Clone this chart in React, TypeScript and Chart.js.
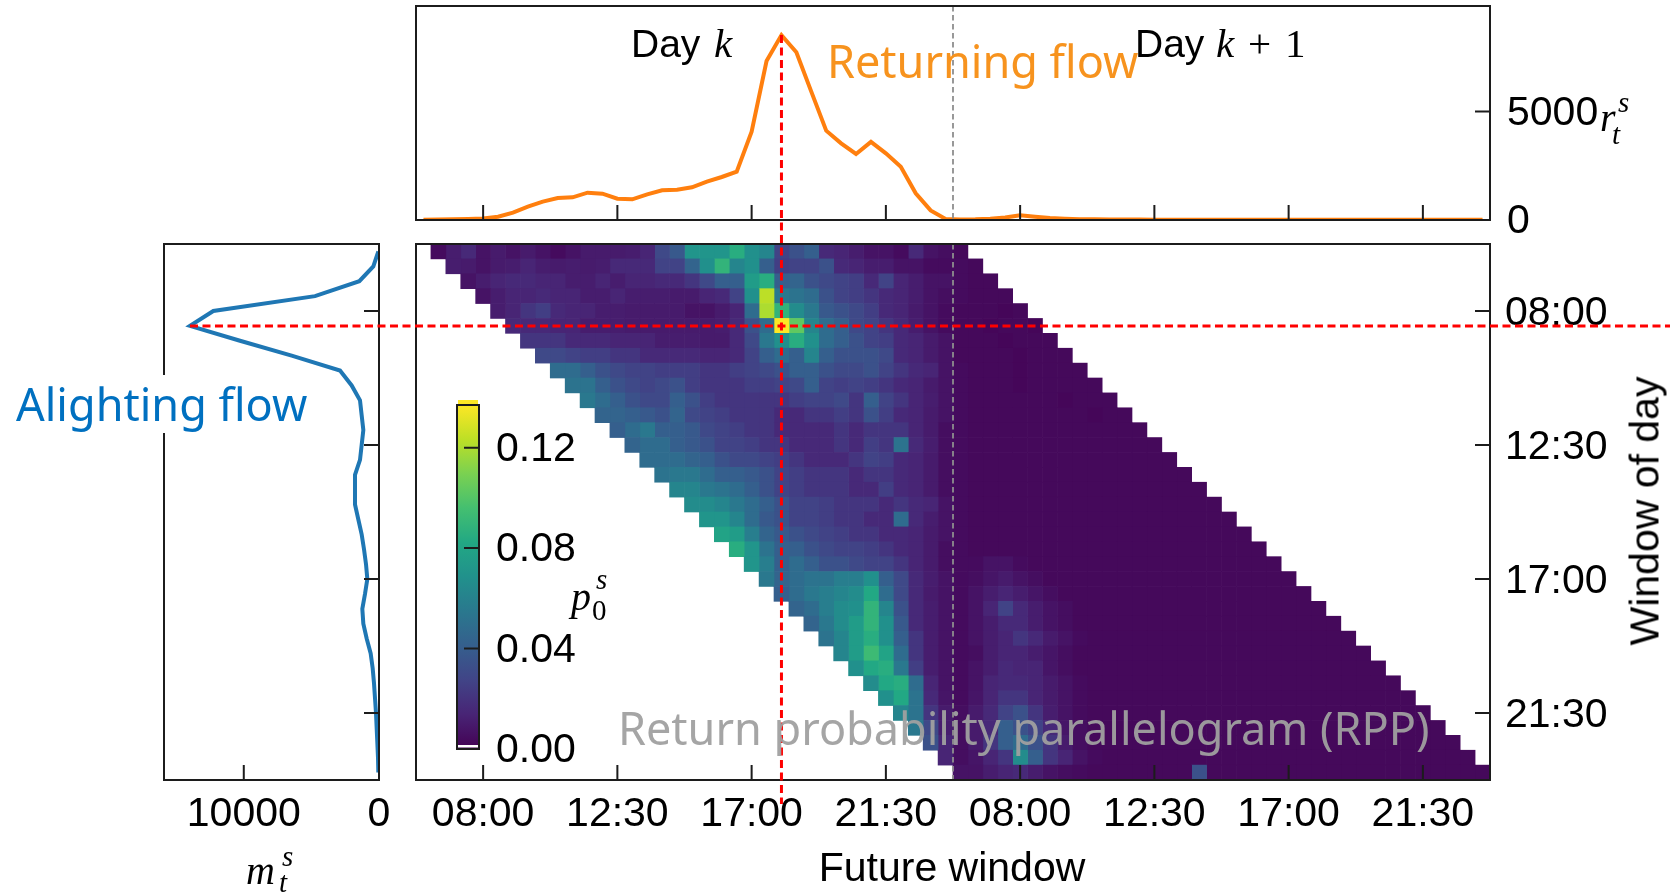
import React, { useEffect, useRef } from "react";
import { Chart, registerables } from "chart.js";

Chart.register(...registerables);

const W = 1670;
const H = 893;
const SANS = '"Liberation Sans", Arial, sans-serif';
const SERIF = '"Liberation Serif", "Times New Roman", serif';
const UI = '"Noto Sans", "Open Sans", sans-serif';
Chart.defaults.font.family = SANS;

// ---------------------------------------------------------------- data ----
// 30-minute windows of one service day
const WINDOW_LABELS = [
  "06:00", "06:30", "07:00", "07:30", "08:00", "08:30", "09:00", "09:30", "10:00",
  "10:30", "11:00", "11:30", "12:00", "12:30", "13:00", "13:30", "14:00", "14:30",
  "15:00", "15:30", "16:00", "16:30", "17:00", "17:30", "18:00", "18:30", "19:00",
  "19:30", "20:00", "20:30", "21:00", "21:30", "22:00", "22:30", "23:00", "23:30",
];
const TICK_LABELS = ["08:00", "12:30", "17:00", "21:30"];
const N = WINDOW_LABELS.length;

// returning flow r_t^s over the future windows of day k and day k+1
const RETURN_FLOW = [
  10, 20, 30, 50, 70, 154, 338, 614, 845, 1014, 1044, 1259, 1213, 983, 952, 1183, 1367, 1398,
  1505, 1766, 1981, 2227, 4070, 7327, 8520, 7726, 5914, 4116, 3533, 3041, 3600, 3072, 2458, 1229,
  442, 50,
  20, 30, 60, 120, 220, 150, 90, 60, 40, 30, 25, 20, 20, 15, 15, 15, 10, 10,
  10, 10, 10, 10, 10, 10, 10, 10, 10, 10, 10, 10, 10, 10, 10, 10, 10, 10,
];
const R_TICKS = [0, 5000];
const R_MAX = 9860;

// alighting flow m_t^s per window of day
const ALIGHT_FLOW = [
  49, 419, 1455, 4733, 12253, 13978, 10280, 6459, 2884, 2022, 1405, 1282, 1159, 1282, 1405, 1775,
  1775, 1775, 1528, 1282, 1109, 961, 863, 1035, 1233, 1159, 912, 616, 468, 370, 296, 222, 173,
  123, 74, 49,
];
const M_TICKS = [10000, 0];
const M_MAX = 15900;

// return probability p_0^s, in thousandths.
// row i = window of day i; entry d = future window i + 1 + d
const RETURN_PROB_PERMILLE = [
  [4, 11, 16, 7, 10, 7, 10, 7, 4, 7, 10, 10, 10, 11, 14, 30, 38, 71, 71, 71, 85, 68, 62, 27, 34, 41, 16, 14, 11, 7, 7, 4, 16, 7, 5, 3],
  [11, 10, 7, 10, 11, 14, 11, 10, 11, 10, 11, 16, 16, 16, 27, 27, 44, 68, 89, 62, 68, 41, 25, 27, 27, 34, 16, 14, 11, 11, 7, 7, 4, 4, 4, 3],
  [7, 11, 14, 16, 16, 14, 14, 11, 11, 14, 11, 14, 14, 16, 16, 21, 30, 41, 41, 75, 85, 41, 44, 34, 30, 27, 25, 16, 27, 14, 11, 7, 7, 4, 3, 3],
  [7, 11, 14, 14, 16, 14, 14, 11, 11, 14, 11, 11, 11, 10, 10, 14, 16, 27, 68, 123, 55, 52, 48, 34, 27, 25, 21, 16, 14, 11, 7, 5, 4, 3, 3, 3],
  [11, 14, 21, 25, 16, 14, 14, 11, 11, 10, 10, 10, 10, 7, 7, 10, 14, 48, 120, 89, 66, 55, 38, 34, 30, 25, 16, 14, 10, 7, 4, 3, 3, 3, 2, 3],
  [16, 16, 16, 14, 14, 11, 11, 11, 10, 10, 10, 10, 10, 10, 11, 16, 34, 48, 137, 103, 62, 48, 41, 30, 27, 21, 16, 11, 7, 4, 3, 3, 2, 3, 3, 2],
  [21, 21, 21, 16, 16, 16, 14, 14, 14, 11, 11, 11, 10, 10, 16, 30, 55, 68, 85, 68, 48, 41, 34, 27, 25, 16, 14, 10, 7, 3, 3, 3, 2, 3, 3, 3],
  [30, 30, 27, 25, 25, 21, 21, 16, 16, 16, 16, 14, 14, 16, 27, 41, 48, 41, 62, 41, 34, 34, 34, 30, 16, 14, 10, 7, 3, 3, 3, 3, 2, 3, 3, 3],
  [48, 48, 41, 34, 30, 27, 27, 25, 25, 25, 21, 21, 25, 27, 30, 34, 41, 41, 34, 30, 30, 34, 27, 21, 16, 14, 7, 4, 3, 3, 3, 2, 3, 3, 3, 3],
  [52, 52, 41, 34, 30, 27, 30, 34, 25, 21, 21, 21, 25, 25, 27, 30, 41, 27, 25, 27, 25, 21, 16, 14, 10, 7, 4, 3, 3, 3, 2, 3, 3, 3, 3, 3],
  [55, 48, 41, 34, 30, 30, 41, 34, 25, 21, 21, 21, 21, 21, 25, 27, 27, 30, 21, 41, 27, 21, 14, 11, 7, 4, 3, 3, 3, 3, 3, 3, 2, 3, 3, 3],
  [44, 44, 41, 38, 34, 44, 30, 27, 25, 21, 21, 21, 16, 16, 21, 21, 25, 21, 34, 25, 16, 14, 10, 7, 4, 3, 3, 3, 3, 3, 3, 3, 3, 2, 3, 3],
  [41, 48, 55, 41, 41, 38, 30, 27, 25, 21, 21, 16, 16, 16, 16, 21, 16, 21, 21, 21, 14, 10, 5, 4, 3, 3, 3, 3, 3, 3, 3, 3, 3, 3, 3, 3],
  [44, 48, 48, 41, 38, 34, 27, 27, 25, 21, 21, 16, 16, 16, 21, 16, 25, 21, 52, 16, 11, 5, 4, 3, 3, 3, 3, 3, 3, 3, 3, 3, 3, 3, 3, 3],
  [48, 48, 48, 44, 41, 34, 30, 30, 27, 25, 21, 16, 16, 16, 21, 27, 25, 16, 14, 10, 5, 4, 3, 3, 3, 3, 3, 3, 3, 3, 3, 3, 3, 3, 3, 3],
  [52, 55, 55, 48, 41, 41, 38, 34, 27, 25, 21, 21, 21, 16, 21, 21, 16, 14, 10, 5, 4, 3, 3, 3, 3, 3, 3, 3, 3, 3, 3, 3, 3, 3, 3, 3],
  [62, 62, 55, 52, 48, 41, 34, 27, 25, 21, 21, 21, 16, 16, 25, 16, 14, 10, 5, 4, 3, 3, 3, 3, 3, 3, 3, 3, 3, 3, 3, 3, 3, 3, 3, 3],
  [66, 66, 62, 55, 48, 41, 34, 27, 27, 25, 21, 21, 21, 16, 21, 16, 14, 7, 4, 3, 3, 3, 3, 3, 3, 3, 3, 3, 3, 3, 3, 3, 3, 3, 3, 3],
  [71, 71, 62, 48, 38, 34, 27, 27, 25, 21, 21, 16, 16, 48, 16, 11, 7, 4, 3, 3, 3, 3, 3, 3, 3, 3, 3, 3, 3, 3, 3, 3, 3, 3, 3, 3],
  [79, 75, 58, 44, 38, 34, 30, 27, 25, 21, 21, 16, 16, 14, 10, 7, 4, 3, 3, 3, 3, 3, 3, 3, 3, 3, 3, 3, 3, 3, 3, 3, 3, 3, 3, 3],
  [85, 71, 52, 41, 41, 34, 30, 27, 27, 25, 21, 16, 14, 10, 5, 4, 3, 3, 3, 3, 3, 3, 3, 3, 3, 3, 3, 3, 3, 3, 3, 3, 3, 3, 3, 3],
  [71, 58, 41, 48, 41, 34, 34, 30, 27, 27, 21, 14, 10, 5, 4, 4, 7, 7, 4, 3, 3, 3, 3, 3, 3, 3, 3, 3, 3, 3, 3, 3, 3, 3, 3, 3],
  [55, 44, 48, 52, 52, 58, 58, 68, 41, 30, 16, 11, 7, 4, 5, 8, 10, 7, 5, 3, 3, 3, 3, 3, 3, 3, 3, 3, 3, 3, 3, 3, 3, 3, 3, 3],
  [41, 48, 55, 58, 62, 66, 82, 48, 30, 16, 10, 7, 4, 7, 11, 14, 11, 8, 5, 3, 3, 3, 3, 3, 3, 3, 3, 3, 3, 3, 3, 3, 3, 3, 3, 3],
  [44, 48, 58, 66, 68, 89, 62, 34, 16, 11, 7, 4, 7, 14, 27, 16, 11, 7, 5, 3, 3, 3, 3, 3, 3, 3, 3, 3, 3, 3, 3, 3, 3, 3, 3, 3],
  [44, 55, 66, 75, 89, 68, 38, 16, 11, 7, 4, 7, 11, 16, 16, 11, 7, 5, 3, 3, 3, 3, 3, 3, 3, 3, 3, 3, 3, 3, 3, 3, 3, 3, 3, 3],
  [52, 62, 75, 85, 68, 41, 21, 11, 7, 4, 7, 11, 14, 21, 16, 10, 7, 4, 3, 3, 3, 3, 3, 3, 3, 3, 3, 3, 3, 3, 3, 3, 3, 3, 3, 3],
  [62, 75, 93, 79, 48, 21, 11, 7, 4, 5, 11, 14, 14, 11, 8, 5, 3, 3, 3, 3, 3, 3, 3, 3, 3, 3, 3, 3, 3, 3, 3, 3, 3, 3, 3, 3],
  [68, 82, 85, 55, 25, 11, 7, 4, 7, 11, 16, 14, 14, 8, 5, 3, 3, 3, 3, 3, 3, 3, 3, 3, 3, 3, 3, 3, 3, 3, 3, 3, 3, 3, 3, 3],
  [66, 82, 85, 48, 14, 7, 4, 7, 14, 16, 16, 14, 10, 7, 4, 3, 3, 3, 3, 3, 3, 3, 3, 3, 3, 3, 3, 3, 3, 3, 3, 3, 3, 3, 3, 3],
  [68, 82, 52, 16, 8, 4, 8, 14, 21, 21, 14, 10, 7, 4, 3, 3, 3, 3, 3, 3, 3, 3, 3, 3, 3, 3, 3, 3, 3, 3, 3, 3, 3, 3, 3, 3],
  [62, 52, 21, 10, 5, 10, 16, 27, 34, 21, 11, 7, 4, 3, 3, 3, 3, 3, 3, 3, 3, 3, 3, 3, 3, 3, 3, 3, 3, 3, 3, 3, 3, 3, 3, 3],
  [55, 30, 11, 5, 10, 16, 41, 34, 27, 16, 8, 5, 3, 3, 3, 3, 3, 3, 3, 3, 3, 3, 3, 3, 3, 3, 3, 3, 3, 3, 3, 3, 3, 3, 3, 3],
  [34, 14, 5, 10, 21, 41, 48, 34, 21, 10, 5, 3, 3, 3, 3, 3, 3, 3, 3, 3, 3, 3, 3, 3, 3, 3, 3, 3, 3, 3, 3, 3, 3, 3, 3, 3],
  [14, 5, 8, 14, 21, 66, 41, 21, 14, 7, 4, 3, 3, 3, 3, 3, 3, 3, 3, 3, 3, 3, 3, 3, 3, 3, 3, 3, 3, 3, 3, 3, 3, 3, 3, 3],
  [7, 7, 11, 14, 16, 11, 7, 5, 4, 3, 3, 3, 3, 3, 3, 3, 34, 3, 3, 3, 3, 3, 3, 3, 3, 3, 3, 3, 3, 3, 3, 3, 3, 3, 3, 3],
];
const CBAR_TICKS = [0, 0.04, 0.08, 0.12];

// --------------------------------------------------------------- styles ----
const ORANGE = "#ff7f0e";
const BLUE = "#1f77b4";
const RED = "#ff0000";
const SPINE = "#1c1c1c";
const TICK_FONT = { family: SANS, size: 41 };

// plot areas on the page
const TOP = { left: 416, right: 1490, top: 6, bottom: 220 };
const HEAT = { left: 416, right: 1490, top: 244, bottom: 780 };
const SIDE = { left: 164, right: 379, top: 244, bottom: 780 };
const CBAR = { left: 457, right: 479, top: 405, bottom: 749 };

// room reserved for tick labels
const X_AXIS_H = 90;
const Y_AXIS_W = 150;

const VIRIDIS = [
  "#440154", "#482475", "#414487", "#355f8d", "#2a788e", "#21918c",
  "#22a884", "#44bf70", "#7ad151", "#bddf26", "#fde725",
];
const VIRIDIS_RGB = VIRIDIS.map((h) => [1, 3, 5].map((k) => parseInt(h.slice(k, k + 2), 16)));
function viridis(t: number): string {
  const u = Math.max(0, Math.min(1, t)) * (VIRIDIS_RGB.length - 1);
  const i = Math.min(VIRIDIS_RGB.length - 2, Math.floor(u));
  const f = u - i;
  const a = VIRIDIS_RGB[i];
  const b = VIRIDIS_RGB[i + 1];
  const c = a.map((v, k) => Math.round(v + (b[k] - v) * f));
  return `rgb(${c[0]},${c[1]},${c[2]})`;
}

// layout padding that puts the plot area at rect r, given the axis boxes
const padFor = (r: any, xAxisH: number, yAxisW: number) => ({
  left: r.left,
  right: W - r.right - yAxisW,
  top: r.top,
  bottom: H - r.bottom - xAxisH,
});
const noGrid = { display: false, drawTicks: false, tickLength: 0 };
const noBorder = { display: false };
const fitX = (h: number) => (s: any) => {
  s.height = h;
  s.paddingLeft = s.paddingRight = s.paddingTop = s.paddingBottom = 0;
};
const fitY = (w: number) => (s: any) => {
  s.width = w;
  s.paddingLeft = s.paddingRight = s.paddingTop = s.paddingBottom = 0;
};
const setTicks = (values: number[]) => (s: any) => {
  s.ticks = values.map((v) => ({ value: v }));
};

// box around the plot area with inward tick marks
function framePlugin(specs: { axis: string; side: "bottom" | "right" }[], tickLen = 15) {
  return {
    id: "frame",
    afterDraw(chart: any) {
      const { ctx, chartArea: a } = chart;
      ctx.save();
      ctx.strokeStyle = SPINE;
      ctx.lineWidth = 2;
      ctx.beginPath();
      for (const s of specs) {
        const sc = chart.scales[s.axis];
        sc.ticks.forEach((_: any, i: number) => {
          const p = sc.getPixelForTick(i);
          if (s.side === "bottom") {
            ctx.moveTo(p, a.bottom);
            ctx.lineTo(p, a.bottom - tickLen);
          } else {
            ctx.moveTo(a.right, p);
            ctx.lineTo(a.right - tickLen, p);
          }
        });
      }
      ctx.stroke();
      ctx.strokeRect(a.left, a.top, a.right - a.left, a.bottom - a.top);
      ctx.restore();
    },
  };
}

// colour bar end caps: thin top-colour strip above, white strip at the floor
const cbarCaps = {
  id: "cbarCaps",
  afterDatasetsDraw(chart: any) {
    const { ctx, chartArea: a } = chart;
    ctx.save();
    ctx.fillStyle = VIRIDIS[VIRIDIS.length - 1];
    ctx.fillRect(a.left + 1, a.top - 5, a.right - a.left - 2, 5);
    ctx.fillStyle = "#fff";
    ctx.fillRect(a.left, a.bottom - 4, a.right - a.left, 2.5);
    ctx.restore();
  },
};

// dashed separator between day k and day k+1
const dayDivider = {
  id: "dayDivider",
  afterDatasetsDraw(chart: any) {
    const { ctx, chartArea: a } = chart;
    const x = chart.scales.x.getPixelForValue(N - 0.5);
    ctx.save();
    ctx.strokeStyle = "#8e8e8e";
    ctx.lineWidth = 1.8;
    ctx.setLineDash([5.5, 3.5]);
    ctx.beginPath();
    ctx.moveTo(x, a.top);
    ctx.lineTo(x, a.bottom);
    ctx.stroke();
    ctx.restore();
  },
};

function dashedRed(ctx: any, x0: number, y0: number, x1: number, y1: number) {
  ctx.save();
  ctx.strokeStyle = RED;
  ctx.lineWidth = 3;
  ctx.setLineDash([8, 4.5]);
  ctx.beginPath();
  ctx.moveTo(x0, y0);
  ctx.lineTo(x1, y1);
  ctx.stroke();
  ctx.restore();
}

// --------------------------------------------------------------- text ------
const BASELINE = { sans: 0.8465, serif: 0.8375, ui: 0.888 } as const;
const FAMILY = { sans: SANS, serif: SERIF, ui: UI } as const;

function T(props: {
  x: number;
  y: number; // baseline
  text: string;
  fam: "sans" | "serif" | "ui";
  size: number;
  color?: string;
  italic?: boolean;
  anchor?: "start" | "middle";
}) {
  const { x, y, text, fam, size, color = "#000", italic = false, anchor = "start" } = props;
  return (
    <div
      style={{
        position: "absolute",
        left: x,
        top: y - BASELINE[fam] * size,
        fontFamily: FAMILY[fam],
        fontSize: size,
        lineHeight: 1,
        fontStyle: italic ? "italic" : "normal",
        color,
        whiteSpace: "nowrap",
        transform: anchor === "middle" ? "translateX(-50%)" : undefined,
      }}
    >
      {text}
    </div>
  );
}

export default function App() {
  const heatRef = useRef<HTMLCanvasElement>(null);
  const cbarRef = useRef<HTMLCanvasElement>(null);
  const sideRef = useRef<HTMLCanvasElement>(null);
  const topRef = useRef<HTMLCanvasElement>(null);

  useEffect(() => {
    const charts: Chart[] = [];
    const base = {
      responsive: false,
      animation: false as const,
      events: [] as any[],
      plugins: { legend: { display: false }, tooltip: { enabled: false } },
    };

    const probs = RETURN_PROB_PERMILLE.map((r) => r.map((v) => v / 1000));
    const vmax = Math.max(...probs.flat());
    const dayTickIndex = TICK_LABELS.map((l) => WINDOW_LABELS.indexOf(l));
    const futureTicks = [...dayTickIndex, ...dayTickIndex.map((i) => i + N)];
    const peakWindow = RETURN_FLOW.indexOf(Math.max(...RETURN_FLOW));
    const peakRow = ALIGHT_FLOW.indexOf(Math.max(...ALIGHT_FLOW));

    // ---- return probability parallelogram: one floating bar per cell
    const heatSets = probs[0].map((_, d) => ({
      data: probs.map((_r, i) => [i + 1 + d - 0.5, i + 1 + d + 0.5]),
      backgroundColor: probs.map((r) => viridis(r[d] / vmax)),
      borderWidth: 0,
      barPercentage: 1,
      categoryPercentage: 1,
      grouped: false,
    }));
    const heat = new Chart(heatRef.current!, {
      type: "bar",
      data: { labels: WINDOW_LABELS, datasets: heatSets as any },
      options: {
        ...base,
        indexAxis: "y",
        layout: { autoPadding: false, padding: padFor(HEAT, X_AXIS_H, Y_AXIS_W) },
        scales: {
          x: {
            type: "linear",
            min: -0.5,
            max: 2 * N - 0.5,
            bounds: "data",
            position: "bottom",
            grid: noGrid,
            border: noBorder,
            afterBuildTicks: setTicks(futureTicks),
            afterFit: fitX(X_AXIS_H),
            ticks: {
              font: TICK_FONT,
              color: "#000",
              padding: 10,
              maxRotation: 0,
              autoSkip: false,
              callback: (v: any) => WINDOW_LABELS[Number(v) % N],
            },
          },
          y: {
            type: "category",
            position: "right",
            offset: true,
            grid: noGrid,
            border: noBorder,
            afterBuildTicks: (s: any) => {
              s.ticks = s.ticks.filter((t: any) => TICK_LABELS.includes(WINDOW_LABELS[t.value]));
            },
            afterFit: fitY(Y_AXIS_W),
            ticks: { font: TICK_FONT, color: "#000", padding: 15, autoSkip: false, labelOffset: 3 },
          },
        },
      } as any,
      plugins: [
        dayDivider,
        framePlugin([
          { axis: "x", side: "bottom" },
          { axis: "y", side: "right" },
        ]),
      ],
    });
    charts.push(heat);

    // ---- colour bar
    const cbar = new Chart(cbarRef.current!, {
      type: "bar",
      data: {
        labels: ["p"],
        datasets: [
          {
            data: [[0, vmax]] as any,
            backgroundColor: (c: any) => {
              const a = c.chart.chartArea;
              if (!a) return VIRIDIS[0];
              const g = c.chart.ctx.createLinearGradient(0, a.bottom, 0, a.top);
              VIRIDIS.forEach((col, i) => g.addColorStop(i / (VIRIDIS.length - 1), col));
              return g;
            },
            borderWidth: 0,
            barPercentage: 1,
            categoryPercentage: 1,
          },
        ],
      },
      options: {
        ...base,
        layout: { autoPadding: false, padding: padFor(CBAR, 0, Y_AXIS_W) },
        scales: {
          x: { display: false },
          y: {
            type: "linear",
            min: 0,
            max: vmax,
            bounds: "data",
            position: "right",
            grid: noGrid,
            border: noBorder,
            afterBuildTicks: setTicks(CBAR_TICKS),
            afterFit: fitY(Y_AXIS_W),
            ticks: {
              font: TICK_FONT,
              color: "#000",
              padding: 17,
              labelOffset: 2,
              callback: (v: any) => Number(v).toFixed(2),
            },
          },
        },
      } as any,
      plugins: [cbarCaps, framePlugin([{ axis: "y", side: "right" }], 15)],
    });
    charts.push(cbar);

    // ---- alighting flow (left panel)
    const alightMarker = {
      id: "alightMarker",
      afterDraw(chart: any) {
        const x = chart.scales.x.getPixelForValue(ALIGHT_FLOW[peakRow]);
        const y = chart.scales.y.getPixelForValue(peakRow);
        dashedRed(chart.ctx, x, y, chart.width, y);
      },
    };
    const side = new Chart(sideRef.current!, {
      type: "line",
      data: {
        datasets: [
          {
            data: ALIGHT_FLOW.map((v, i) => ({ x: v, y: i })),
            borderColor: BLUE,
            borderWidth: 4,
            pointRadius: 0,
            tension: 0,
            fill: false,
          },
        ],
      },
      options: {
        ...base,
        layout: { autoPadding: false, padding: padFor(SIDE, X_AXIS_H, 0) },
        scales: {
          x: {
            type: "linear",
            reverse: true,
            min: 0,
            max: M_MAX,
            bounds: "data",
            position: "bottom",
            grid: noGrid,
            border: noBorder,
            afterBuildTicks: setTicks(M_TICKS),
            afterFit: fitX(X_AXIS_H),
            ticks: {
              font: TICK_FONT,
              color: "#000",
              padding: 10,
              maxRotation: 0,
              autoSkip: false,
              callback: (v: any) => String(v),
            },
          },
          y: {
            type: "linear",
            reverse: true,
            min: -0.5,
            max: N - 0.5,
            bounds: "data",
            position: "right",
            grid: noGrid,
            border: noBorder,
            afterBuildTicks: setTicks(dayTickIndex),
            afterFit: fitY(0),
            ticks: { display: false },
          },
        },
      } as any,
      plugins: [
        framePlugin([
          { axis: "x", side: "bottom" },
          { axis: "y", side: "right" },
        ]),
        alightMarker,
      ],
    });
    charts.push(side);

    // ---- returning flow (top panel)
    const returnMarker = {
      id: "returnMarker",
      afterDraw(chart: any) {
        const x = chart.scales.x.getPixelForValue(peakWindow);
        const y = chart.scales.y.getPixelForValue(RETURN_FLOW[peakWindow]);
        dashedRed(chart.ctx, x, y, x, heat.chartArea.bottom + 24);
      },
    };
    const top = new Chart(topRef.current!, {
      type: "line",
      data: {
        datasets: [
          {
            data: RETURN_FLOW.map((v, j) => ({ x: j, y: v })),
            borderColor: ORANGE,
            borderWidth: 4,
            pointRadius: 0,
            tension: 0,
            fill: false,
          },
        ],
      },
      options: {
        ...base,
        layout: { autoPadding: false, padding: padFor(TOP, 0, Y_AXIS_W) },
        scales: {
          x: {
            type: "linear",
            min: -0.5,
            max: 2 * N - 0.5,
            bounds: "data",
            position: "bottom",
            grid: noGrid,
            border: noBorder,
            afterBuildTicks: setTicks(futureTicks),
            afterFit: fitX(0),
            ticks: { display: false },
          },
          y: {
            type: "linear",
            min: 0,
            max: R_MAX,
            bounds: "data",
            position: "right",
            grid: noGrid,
            border: noBorder,
            afterBuildTicks: setTicks(R_TICKS),
            afterFit: fitY(Y_AXIS_W),
            ticks: {
              font: TICK_FONT,
              color: "#000",
              padding: 17,
              labelOffset: 2,
              callback: (v: any) => String(v),
            },
          },
        },
      } as any,
      plugins: [
        dayDivider,
        framePlugin([
          { axis: "x", side: "bottom" },
          { axis: "y", side: "right" },
        ]),
        returnMarker,
      ],
    });
    charts.push(top);

    return () => charts.forEach((c) => c.destroy());
  }, []);

  const layer: React.CSSProperties = { position: "absolute", left: 0, top: 0 };

  return (
    <div style={{ position: "absolute", left: 0, top: 0, width: W, height: H, background: "#fff", overflow: "hidden" }}>
      <canvas ref={heatRef} width={W} height={H} style={layer} />
      <canvas ref={cbarRef} width={W} height={H} style={layer} />
      <canvas ref={sideRef} width={W} height={H} style={layer} />
      <canvas ref={topRef} width={W} height={H} style={layer} />

      {/* day captions */}
      <T x={631} y={57} text="Day" fam="sans" size={39} />
      <T x={714} y={57} text="k" fam="serif" size={41} italic />
      <T x={1135} y={57} text="Day" fam="sans" size={39} />
      <T x={1216} y={57} text="k" fam="serif" size={41} italic />
      <T x={1248} y={57} text="+" fam="serif" size={41} />
      <T x={1285} y={57} text="1" fam="serif" size={41} />

      {/* callouts */}
      <T x={827} y={78} text="Returning flow" fam="ui" size={45} color="#f7931e" />
      <div style={{ position: "absolute", left: 4, top: 375, width: 318, height: 58, background: "#fff" }} />
      <T x={16} y={421} text="Alighting flow" fam="ui" size={45} color="#0070c0" />
      <T x={618} y={745} text="Return probability parallelogram (RPP)" fam="ui" size={45} color="rgba(160,160,160,0.95)" />

      {/* axis titles */}
      <T x={952} y={882} text="Future window" fam="sans" size={41} anchor="middle" />
      <div
        style={{
          position: "absolute",
          left: 1645,
          top: 511,
          fontFamily: SANS,
          fontSize: 41,
          lineHeight: 1,
          whiteSpace: "nowrap",
          color: "#000",
          transform: "translate(-50%, -50%) rotate(-90deg)",
        }}
      >
        Window of day
      </div>

      {/* r_t^s */}
      <T x={1600} y={131} text="r" fam="serif" size={40} italic />
      <T x={1618} y={112} text="s" fam="serif" size={29} italic />
      <T x={1612} y={144} text="t" fam="serif" size={29} italic />

      {/* m_t^s */}
      <T x={246} y={884} text="m" fam="serif" size={40} italic />
      <T x={282} y={866} text="s" fam="serif" size={29} italic />
      <T x={279} y={892} text="t" fam="serif" size={29} italic />

      {/* p_0^s */}
      <T x={571} y={610} text="p" fam="serif" size={40} italic />
      <T x={596} y={589} text="s" fam="serif" size={29} italic />
      <T x={592} y={620} text="0" fam="serif" size={29} />
    </div>
  );
}
